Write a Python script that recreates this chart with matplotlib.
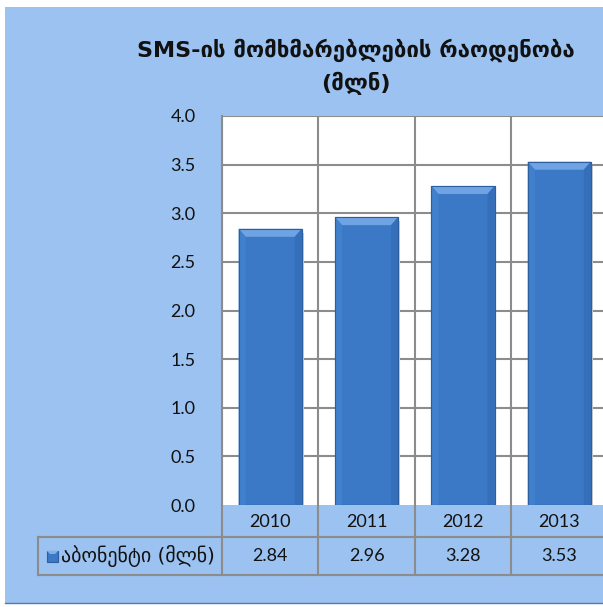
import numpy as np
import matplotlib
matplotlib.use("Agg")
import matplotlib.pyplot as plt
from matplotlib.patches import Polygon, Rectangle
import matplotlib.transforms as mtransforms

years = ["2010", "2011", "2012", "2013"]
values = [2.84, 2.96, 3.28, 3.53]
value_labels = ["2.84", "2.96", "3.28", "3.53"]
y_ticks = [0.0, 0.5, 1.0, 1.5, 2.0, 2.5, 3.0, 3.5, 4.0]
title = "SMS-ის მომხმარებლების რაოდენობა\n(მლნ)"
series_name = "აბონენტი (მლნ)"

W, H = 603, 607
FONT = ["Lato", "DejaVu Sans"]
plt.rcParams["font.family"] = FONT

fig = plt.figure(figsize=(W / 100, H / 100), dpi=100, facecolor="white")

# background axes in pixel units
bg = fig.add_axes([0, 0, 1, 1], zorder=0)
bg.set_xlim(0, W)
bg.set_ylim(H, 0)
bg.axis("off")

fill = "#9BC2F0"
L, T, R, B = 5, 7, 615, 603
bg.add_patch(Rectangle((L, T), R - L, B - T, facecolor=fill, edgecolor="none"))


def grad_poly(pts, colors, direction):
    poly = Polygon(pts, closed=True, facecolor="none", edgecolor="none")
    bg.add_patch(poly)
    xs = [p[0] for p in pts]
    ys = [p[1] for p in pts]
    n = 64
    cmap = matplotlib.colors.LinearSegmentedColormap.from_list("g", colors)
    g = np.linspace(0, 1, n)
    if direction == "v":
        img = g[:, None] * np.ones((1, 2))
    else:
        img = np.ones((2, 1)) * g[None, :]
    im = bg.imshow(img, cmap=cmap, extent=(min(xs), max(xs), max(ys), min(ys)),
                   aspect="auto", interpolation="bilinear", origin="upper")
    im.set_clip_path(poly)


bv = 15
grad_poly([(L, T), (R, T), (R, T + bv), (L + bv, T + bv)],
          ["#8FB3E0", "#D6EBFC", "#B9D7F6", fill], "v")
grad_poly([(L, T), (L + bv, T + bv), (L + bv, B - bv), (L, B)],
          ["#5F82B2", "#86A9D8", fill], "h")
grad_poly([(L, B), (L + bv, B - bv), (R, B - bv), (R, B)],
          [fill, "#8AAEDC", "#5E80AE"], "v")
bg.plot([L, R], [B, B], color="#5A7AA6", lw=1.0)

# main axes
ax_left, ax_right, ax_top, ax_bot = 222, 607.5, 116, 505
ax = fig.add_axes([ax_left / W, 1 - ax_bot / H, (ax_right - ax_left) / W,
                   (ax_bot - ax_top) / H], zorder=2)
n = len(years)
x = np.arange(n)
ax.set_xlim(-0.5, n - 0.5)
ax.set_ylim(0, 4.0)
ax.set_facecolor("white")
grid_c = "#8C8C8C"
for s in ax.spines.values():
    s.set_visible(False)
ax.spines["left"].set_visible(True)
ax.spines["left"].set_color(grid_c)
ax.spines["left"].set_linewidth(1.5)
ax.set_yticks(y_ticks)
ax.set_yticklabels([f"{v:.1f}" for v in y_ticks], fontsize=13, color="#111111")
ax.tick_params(axis="y", length=0, pad=19)
ax.set_xticks([])
for yv in y_ticks[1:]:
    ax.axhline(yv, color=grid_c, lw=1.5, zorder=1)
for xb in np.arange(-0.5, n + 0.5, 1.0):
    ax.axvline(xb, color=grid_c, lw=1.5, zorder=1)

bw = 0.655
bars = ax.bar(x, values, width=bw, color="#3B78C6", edgecolor="#2D5E9E",
              linewidth=0.8, zorder=3)
# bevels
px_per_unit_y = (ax_bot - ax_top) / 4.0
px_per_unit_x = (ax_right - ax_left) / n
dy = 8 / px_per_unit_y
dx = 7 / px_per_unit_x
for b in bars:
    x0, w, h = b.get_x(), b.get_width(), b.get_height()
    x1 = x0 + w
    ax.add_patch(Polygon([(x0, h), (x1, h), (x1 - dx, h - dy), (x0 + dx, h - dy)],
                         facecolor="#6FA3E3", edgecolor="none", zorder=4))
    ax.add_patch(Polygon([(x0, h), (x0 + dx, h - dy), (x0 + dx, 0), (x0, 0)],
                         facecolor="#4080CC", edgecolor="none", zorder=4))
    ax.add_patch(Polygon([(x1, h), (x1 - dx, h - dy), (x1 - dx, 0), (x1, 0)],
                         facecolor="#356FBA", edgecolor="none", zorder=4))
    ax.add_patch(Rectangle((x0, 0), w, h, facecolor="none", edgecolor="#2D5E9E",
                           linewidth=0.8, zorder=5))
    # subtle shadow
    ax.add_patch(Rectangle((x1, 0), 0.02, h - dy * 0.5, facecolor="#D0D0D0",
                           edgecolor="none", zorder=2))

# data table (x from data, y in pixels)
tr = mtransforms.blended_transform_factory(ax.transData, bg.transData)
row1_top, row1_bot, row2_bot = ax_bot, 537, 575
label_left = 38
for xb in np.arange(-0.5, n + 0.5, 1.0):
    bg.plot([xb, xb], [row1_top, row2_bot], color=grid_c, lw=1.5,
            transform=tr, clip_on=False, zorder=3)
bg.plot([label_left, W + 10], [row1_bot, row1_bot], color=grid_c, lw=1.5, zorder=3)
bg.plot([label_left, W + 10], [row2_bot, row2_bot], color=grid_c, lw=1.5, zorder=3)
bg.plot([label_left, label_left], [row1_bot, row2_bot], color=grid_c, lw=1.5, zorder=3)

for xi, yr, vl in zip(x, years, value_labels):
    bg.text(xi, (row1_top + row1_bot) / 2 + 1, yr, transform=tr, ha="center",
            va="center", fontsize=13, color="#111111", zorder=4)
    bg.text(xi, (row1_bot + row2_bot) / 2, vl, transform=tr, ha="center",
            va="center", fontsize=13, color="#111111", zorder=4)

# legend key and label
key = Rectangle((47, 551), 11, 11, facecolor="#3B78C6", edgecolor="#2D5E9E",
                lw=0.8, zorder=4)
bg.add_patch(key)
bg.add_patch(Polygon([(47, 551), (58, 551), (55, 554), (50, 554)],
                     facecolor="#7FB0EA", edgecolor="none", zorder=5))
bg.text(61, (row1_bot + row2_bot) / 2, series_name, ha="left", va="center",
        fontsize=14.3, color="#111111", family=["DejaVu Sans"], zorder=4)

# title
bg.text(356, 67, title, ha="center", va="center", fontsize=16,
        fontweight="bold", color="#111111", linespacing=1.55,
        family=["DejaVu Sans"], zorder=4)

fig.savefig("out.png", dpi=100, facecolor="white")
